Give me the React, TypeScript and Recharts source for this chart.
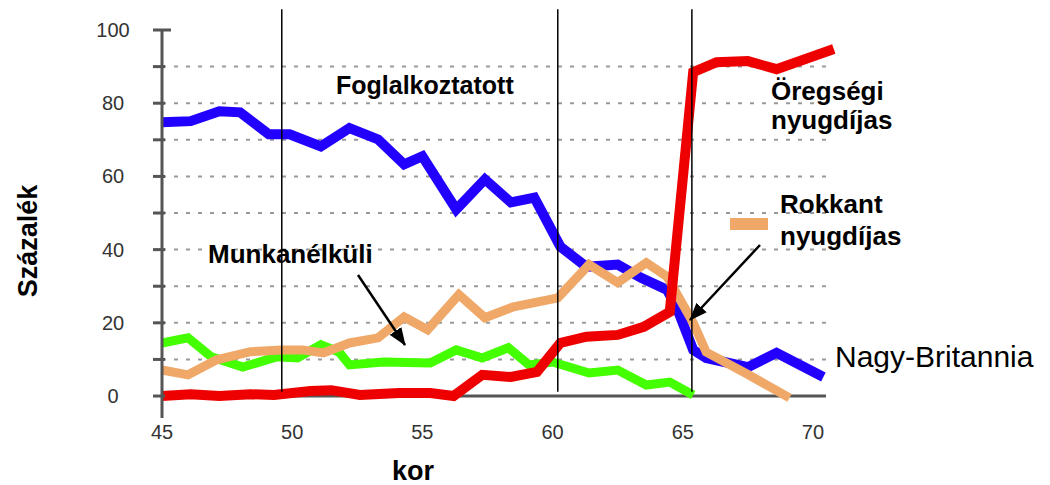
import { LineChart, Line, XAxis, YAxis, ReferenceLine } from "recharts";

// Nagy-Britannia, activity status by age (%)
const employedAges = [45, 46.1, 47.2, 48, 49.1, 49.9, 51.1, 52.2, 53.3, 54.3, 55, 56.3, 57.4, 58.4, 59.3, 60.3, 61.3, 62.5, 63.4, 64.4, 64.8, 65.4, 65.9, 67.5, 68.6, 70.4];
const employedPct = [74.8, 75.1, 77.8, 77.5, 71.5, 71.5, 68.2, 73.2, 70.1, 63.3, 65.5, 51, 59.2, 52.9, 54.2, 40.8, 35.3, 35.9, 32.3, 29, 23.6, 12.6, 10.4, 7.9, 11.8, 5.2];

const oldAgeAges = [45, 46.1, 47.2, 48.4, 49.3, 50.7, 51.5, 52.6, 54.1, 55.3, 56.2, 57.3, 58.4, 59.4, 60.3, 61.3, 62.5, 63.5, 64.5, 65.4, 66.3, 67.5, 68.6, 70.8];
const oldAgePct = [0, 0.5, 0, 0.5, 0.3, 1.4, 1.6, 0.3, 0.8, 0.8, 0, 5.8, 5.2, 6.6, 14.5, 16.2, 16.7, 18.9, 23, 88.5, 91.2, 91.5, 89.3, 94.8];

const disabilityAges = [45, 46, 47.1, 48.4, 49.6, 50.4, 51.2, 52.2, 53.3, 54.3, 55.2, 56.4, 57.4, 58.5, 60.2, 61.4, 62.5, 63.6, 64.4, 65.4, 65.9, 67.4, 69.1];
const disabilityPct = [7.1, 5.8, 9.9, 12.1, 12.6, 12.6, 11.8, 14.5, 15.9, 21.6, 18.1, 27.7, 21.4, 24.4, 26.8, 35.9, 31, 36.4, 32.6, 20, 12, 6.3, -0.5];

const unemployedAges = [45, 46, 46.9, 48.1, 49.4, 50.2, 51.1, 51.8, 52.2, 53.5, 55.3, 56.3, 57.3, 58.3, 59.1, 60, 61.4, 62.5, 63.6, 64.5, 65.4];
const unemployedPct = [14.5, 15.9, 10.7, 7.9, 10.7, 10.4, 14, 12, 8.5, 9.3, 9, 12.6, 10.4, 13.2, 8.5, 9.3, 6.3, 7.1, 3, 3.8, 0.3];

const xTicks = [45, 50, 55, 60, 65, 70];
const yTicks = [0, 10, 20, 30, 40, 50, 60, 70, 80, 90, 100];
const gridValues = [10, 20, 30, 40, 50, 60, 70, 80, 90];
const markerAges = [49.6, 60.2, 65.35];

const zip = (ages: number[], pct: number[]) => ages.map((age, i) => ({ age, pct: pct[i] }));

const FONT = "'Liberation Sans', Arial, sans-serif";
const AXIS = "#555";

// x here is the outer end of the tick mark (axis x - 9)
const YTick = (props: any) => {
  const { x, y, payload } = props;
  const v = payload.value;
  return (
    <g>
      <rect x={x} y={y - 1.5} width={v === 100 ? 18 : 12} height={3} fill={AXIS} />
      {v % 20 === 0 && (
        <text x={x - 40} y={y + 7} textAnchor="middle" fontFamily={FONT} fontSize={20} fill="#333">
          {v}
        </text>
      )}
    </g>
  );
};

const XTick = (props: any) => {
  const { x, y, payload } = props;
  return (
    <text x={x} y={y + 21} textAnchor="middle" fontFamily={FONT} fontSize={20} fill="#333">
      {payload.value}
    </text>
  );
};

export default function App() {
  return (
    <div style={{ position: "absolute", left: 0, top: 0, width: 1050, height: 485, background: "#fff" }}>
      <LineChart width={1050} height={485} margin={{ top: 30, right: 211, bottom: 37, left: 0 }}>
        <XAxis
          type="number"
          dataKey="age"
          domain={[45, 71]}
          ticks={xTicks}
          axisLine={false}
          tickLine={false}
          tickSize={0}
          tickMargin={0}
          height={30}
          tick={(p: any) => <XTick {...p} />}
        />
        <YAxis
          type="number"
          domain={[-6, 100]}
          ticks={yTicks}
          width={162}
          axisLine={{ stroke: AXIS, strokeWidth: 3 }}
          tickLine={false}
          tickSize={9}
          tickMargin={0}
          tick={(p: any) => <YTick {...p} />}
        />
        {gridValues.map((g) => (
          <ReferenceLine
            key={g}
            segment={[{ x: 45, y: g }, { x: 70.5, y: g }]}
            stroke="#999"
            strokeWidth={2}
            strokeDasharray="4 8"
            ifOverflow="visible"
          />
        ))}
        <ReferenceLine
          segment={[{ x: 45, y: 0 }, { x: 70.5, y: 0 }]}
          stroke={AXIS}
          strokeWidth={3}
          ifOverflow="visible"
        />
        <Line data={zip(unemployedAges, unemployedPct)} dataKey="pct" stroke="#44ff00" strokeWidth={9} dot={false} isAnimationActive={false} />
        <Line data={zip(employedAges, employedPct)} dataKey="pct" stroke="#2200ff" strokeWidth={10} dot={false} isAnimationActive={false} />
        <Line data={zip(disabilityAges, disabilityPct)} dataKey="pct" stroke="#f0a868" strokeWidth={9} dot={false} isAnimationActive={false} />
        <Line data={zip(oldAgeAges, oldAgePct)} dataKey="pct" stroke="#ee0000" strokeWidth={10} dot={false} isAnimationActive={false} />
        {markerAges.map((a) => (
          <ReferenceLine
            key={a}
            segment={[{ x: a, y: 1.2 }, { x: a, y: 105.7 }]}
            stroke="#000"
            strokeWidth={1.5}
            ifOverflow="visible"
          />
        ))}
      </LineChart>
      <svg
        width={1050}
        height={485}
        style={{ position: "absolute", left: 0, top: 0, pointerEvents: "none" }}
        fontFamily={FONT}
      >
        <defs>
          <marker id="head" markerWidth="18" markerHeight="14" refX="17" refY="7" orient="auto" markerUnits="userSpaceOnUse" viewBox="0 0 18 14">
            <path d="M0,0 L18,7 L0,14 z" fill="#000" />
          </marker>
        </defs>
        <text x={336} y={94} fontSize={25} fontWeight="bold">Foglalkoztatott</text>
        <text x={771} y={100} fontSize={26} fontWeight="bold">Öregségi</text>
        <text x={771} y={129} fontSize={26} fontWeight="bold">nyugdíjas</text>
        <text x={780} y={213} fontSize={26} fontWeight="bold">Rokkant</text>
        <text x={780} y={245} fontSize={26} fontWeight="bold">nyugdíjas</text>
        <rect x={730} y={218} width={38} height={12} fill="#f0a868" />
        <text x={208} y={263} fontSize={26} fontWeight="bold">Munkanélküli</text>
        <text x={835} y={367} fontSize={30}>Nagy-Britannia</text>
        <text x={413} y={480} fontSize={27} fontWeight="bold" textAnchor="middle">kor</text>
        <text
          x={0}
          y={0}
          fontSize={27}
          fontWeight="bold"
          textAnchor="middle"
          transform="translate(37,241) rotate(-90)"
        >
          Százalék
        </text>
        <line x1={358} y1={275} x2={405} y2={345} stroke="#000" strokeWidth={2.5} markerEnd="url(#head)" />
        <line x1={760} y1={245} x2={690} y2={320} stroke="#000" strokeWidth={2.5} markerEnd="url(#head)" />
      </svg>
    </div>
  );
}
